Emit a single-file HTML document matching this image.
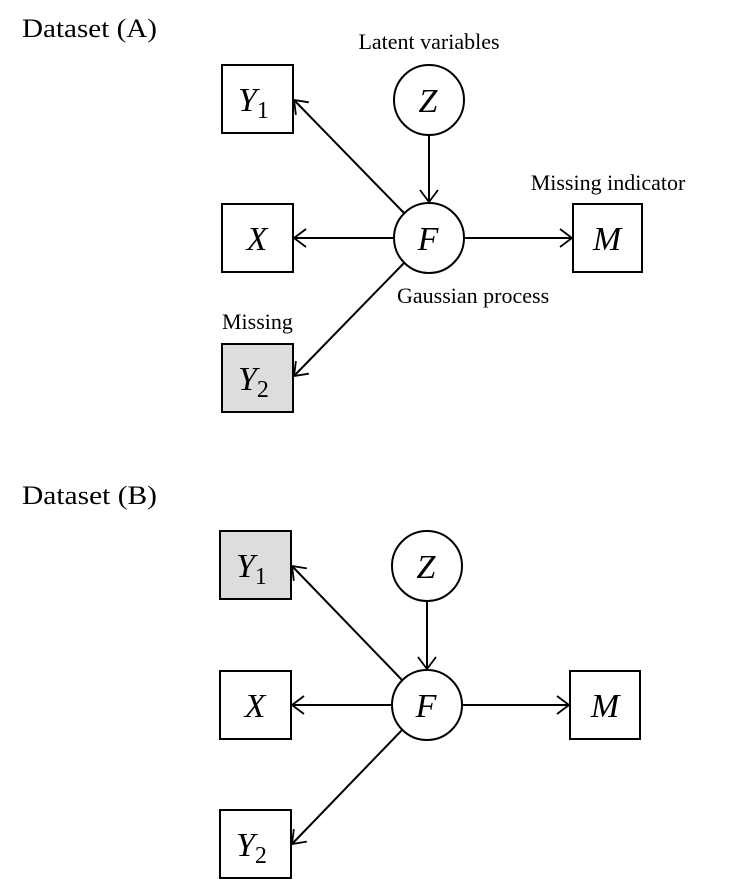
<!DOCTYPE html>
<html><head><meta charset="utf-8"><style>
html,body{margin:0;padding:0;background:#fff;}
svg{display:block}
.t{font-family:"Liberation Serif",serif;fill:#000}
.m{font-family:"Liberation Serif",serif;font-style:italic;font-size:34px;fill:#000}
.s{font-family:"Liberation Serif",serif;font-size:22px;fill:#000}
</style></head><body>
<svg width="736" height="880" viewBox="0 0 736 880" xmlns="http://www.w3.org/2000/svg">
<defs>
<marker id="a" markerWidth="16" markerHeight="20" refX="14" refY="10" orient="auto" markerUnits="userSpaceOnUse">
<path d="M2,1 L14,10 L2,19" fill="none" stroke="#000" stroke-width="1.8"/>
</marker>
</defs>
<g stroke="#000" stroke-width="2" fill="none">
<rect x="222" y="65" width="71" height="68" fill="#fff"/>
<rect x="222" y="204" width="71" height="68" fill="#fff"/>
<rect x="573" y="204" width="69" height="68" fill="#fff"/>
<rect x="222" y="344" width="71" height="68" fill="#ddd"/>
<circle cx="429" cy="100" r="35" fill="#fff"/>
<circle cx="429" cy="238" r="35" fill="#fff"/>
<line x1="429" y1="135" x2="429" y2="202" marker-end="url(#a)"/>
<line x1="394" y1="238" x2="294" y2="238" marker-end="url(#a)"/>
<line x1="464" y1="238" x2="572" y2="238" marker-end="url(#a)"/>
<line x1="404" y1="213" x2="294" y2="100" marker-end="url(#a)"/>
<line x1="404" y1="263" x2="294" y2="376" marker-end="url(#a)"/>
<rect x="220" y="531" width="71" height="68" fill="#ddd"/>
<rect x="220" y="671" width="71" height="68" fill="#fff"/>
<rect x="570" y="671" width="70" height="68" fill="#fff"/>
<rect x="220" y="810" width="71" height="68" fill="#fff"/>
<circle cx="427" cy="566" r="35" fill="#fff"/>
<circle cx="427" cy="705" r="35" fill="#fff"/>
<line x1="427" y1="601" x2="427" y2="669" marker-end="url(#a)"/>
<line x1="392" y1="705" x2="292" y2="705" marker-end="url(#a)"/>
<line x1="462" y1="705" x2="569" y2="705" marker-end="url(#a)"/>
<line x1="402" y1="680" x2="292" y2="566" marker-end="url(#a)"/>
<line x1="402" y1="730" x2="292" y2="844" marker-end="url(#a)"/>
</g>
<text class="t" x="22" y="37" font-size="26" textLength="135" lengthAdjust="spacingAndGlyphs">Dataset (A)</text>
<text class="s" x="429" y="49" text-anchor="middle" font-size="19">Latent variables</text>
<text class="s" x="608" y="190" text-anchor="middle" font-size="19">Missing indicator</text>
<text class="s" x="397" y="303" font-size="19">Gaussian process</text>
<text class="s" x="222" y="329" font-size="19">Missing</text>
<text class="m" x="238" y="111">Y<tspan font-style="normal" font-size="24" dy="7">1</tspan></text>
<text class="m" x="257" y="250" text-anchor="middle">X</text>
<text class="m" x="607" y="250" text-anchor="middle">M</text>
<text class="m" x="238" y="390">Y<tspan font-style="normal" font-size="24" dy="7">2</tspan></text>
<text class="m" x="428" y="112" text-anchor="middle">Z</text>
<text class="m" x="428" y="250" text-anchor="middle">F</text>
<text class="t" x="22" y="504" font-size="26" textLength="135" lengthAdjust="spacingAndGlyphs">Dataset (B)</text>
<text class="m" x="236" y="577">Y<tspan font-style="normal" font-size="24" dy="7">1</tspan></text>
<text class="m" x="255" y="717" text-anchor="middle">X</text>
<text class="m" x="605" y="717" text-anchor="middle">M</text>
<text class="m" x="236" y="856">Y<tspan font-style="normal" font-size="24" dy="7">2</tspan></text>
<text class="m" x="426" y="578" text-anchor="middle">Z</text>
<text class="m" x="426" y="717" text-anchor="middle">F</text>
</svg>
</body></html>
